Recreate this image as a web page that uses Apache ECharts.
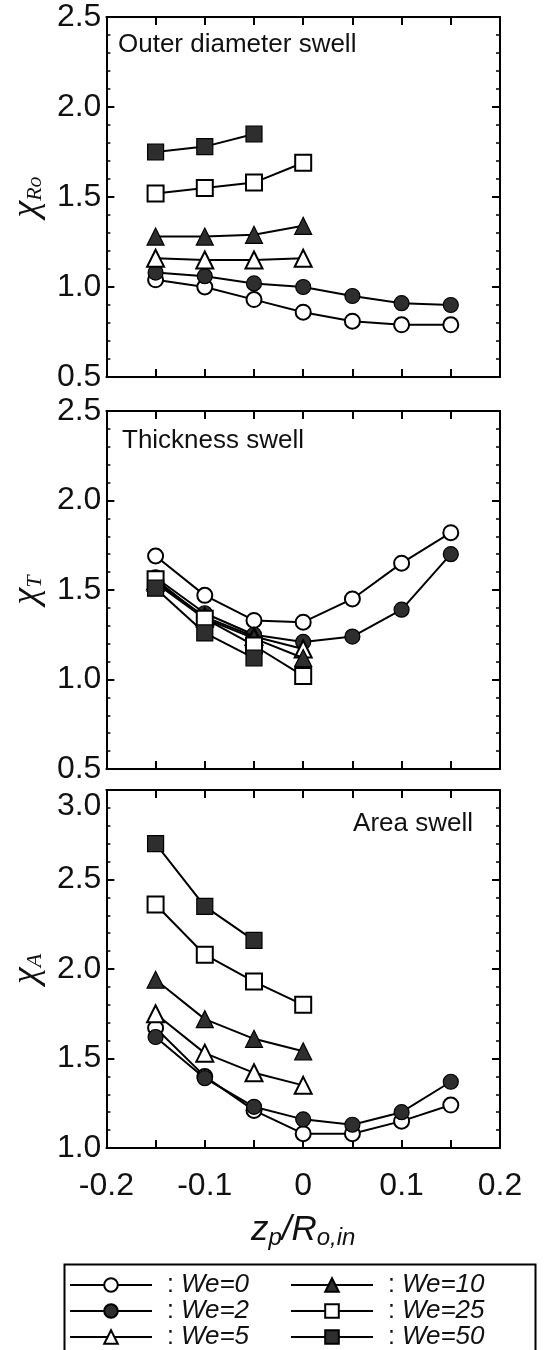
<!DOCTYPE html>
<html>
<head>
<meta charset="utf-8">
<script src="https://cdn.jsdelivr.net/npm/echarts@6/dist/echarts.min.js"></script>
<style>
html,body{margin:0;padding:0;background:#fff;}
#main{width:545px;height:1350px;}
</style>
</head>
<body>
<div id="main"></div>
<script>
// ---- data ----
var xVals = [-0.15, -0.1, -0.05, 0, 0.05, 0.1, 0.15];
var seriesNames = ['We=0', 'We=2', 'We=5', 'We=10', 'We=25', 'We=50'];
var xTickLabels = ['-0.2', '-0.1', '0', '0.1', '0.2'];

// Outer diameter swell (chi_Ro)
var ro_We0  = [1.04, 1.00, 0.93, 0.86, 0.81, 0.79, 0.79];
var ro_We2  = [1.08, 1.06, 1.02, 1.00, 0.95, 0.91, 0.90];
var ro_We5  = [1.16, 1.15, 1.15, 1.16];
var ro_We10 = [1.28, 1.28, 1.29, 1.34];
var ro_We25 = [1.52, 1.55, 1.58, 1.69];
var ro_We50 = [1.75, 1.78, 1.85];

// Thickness swell (chi_T)
var t_We0  = [1.69, 1.47, 1.33, 1.32, 1.45, 1.65, 1.82];
var t_We2  = [1.57, 1.37, 1.25, 1.21, 1.24, 1.39, 1.70];
var t_We5  = [1.55, 1.35, 1.24, 1.17];
var t_We10 = [1.54, 1.34, 1.23, 1.12];
var t_We25 = [1.56, 1.34, 1.19, 1.02];
var t_We50 = [1.51, 1.26, 1.12];

// Area swell (chi_A)
var a_We0  = [1.67, 1.40, 1.21, 1.08, 1.08, 1.15, 1.24];
var a_We2  = [1.62, 1.39, 1.23, 1.16, 1.13, 1.20, 1.37];
var a_We5  = [1.75, 1.53, 1.42, 1.35];
var a_We10 = [1.94, 1.72, 1.61, 1.54];
var a_We25 = [2.36, 2.08, 1.93, 1.80];
var a_We50 = [2.70, 2.35, 2.16];

// ---- styling ----
var FONT = "'Liberation Sans', Arial, Helvetica, sans-serif";
var SERIF = "'Liberation Serif', 'DejaVu Serif', serif";
var DARK = '#2e2e2e';
var markStyles = {
  'We=0':  {symbol: 'circle',   size: 15, fill: '#ffffff'},
  'We=2':  {symbol: 'circle',   size: 15, fill: DARK},
  'We=5':  {symbol: 'triangle', size: 17, fill: '#ffffff'},
  'We=10': {symbol: 'triangle', size: 17, fill: DARK},
  'We=25': {symbol: 'rect',     size: 16, fill: '#ffffff'},
  'We=50': {symbol: 'rect',     size: 16, fill: DARK}
};

var panels = [
  {data: [ro_We0, ro_We2, ro_We5, ro_We10, ro_We25, ro_We50], min: 0.5, max: 2.5,
   name: '{c|χ}{s|Ro}', top: 17, height: 360, showX: false, vMax: 'middle'},
  {data: [t_We0, t_We2, t_We5, t_We10, t_We25, t_We50], min: 0.5, max: 2.5,
   name: '{c|χ}{s|T}', top: 411, height: 358, showX: false, vMax: 'middle'},
  {data: [a_We0, a_We2, a_We5, a_We10, a_We25, a_We50], min: 1.0, max: 3.0,
   name: '{c|χ}{s|A}', top: 790, height: 358, showX: true, vMax: 'top'}
];

var grids = [], xAxes = [], yAxes = [], series = [];
var lineStyleAxis = {color: '#000', width: 2};

function xLabel(v) {
  var r = Math.round(v * 10);
  if (Math.abs(v * 10 - r) > 1e-6) return '';
  var idx = r + 2;
  return xTickLabels[idx] !== undefined ? xTickLabels[idx] : '';
}

panels.forEach(function (p, g) {
  grids.push({left: 100, width: 400, top: p.top, height: p.height});
  // bottom x
  xAxes.push({
    type: 'value', gridIndex: g, position: 'bottom', min: -0.2, max: 0.2, interval: 0.05,
    axisLine: {show: true, onZero: false, lineStyle: lineStyleAxis},
    axisTick: {show: true, inside: true, length: 8, lineStyle: {color: '#000', width: 2}},
    splitLine: {show: false},
    axisLabel: {show: p.showX, margin: 22, fontSize: 32, color: '#111', fontFamily: FONT,
                formatter: xLabel},
    name: p.showX ? '{i|z}{s|p}{i|/R}{s|o,in}' : '',
    nameLocation: 'middle', nameGap: 62,
    nameTextStyle: {
      rich: {
        i: {fontFamily: FONT, fontStyle: 'italic', fontSize: 35, lineHeight: 40, color: '#111'},
        s: {fontFamily: FONT, fontStyle: 'italic', fontSize: 24, lineHeight: 23, verticalAlign: 'bottom', color: '#111'}
      }
    }
  });
  // top x (ticks only)
  xAxes.push({
    type: 'value', gridIndex: g, position: 'top', min: -0.2, max: 0.2, interval: 0.05,
    axisLine: {show: true, onZero: false, lineStyle: lineStyleAxis},
    axisTick: {show: true, inside: true, length: 8, lineStyle: {color: '#000', width: 2}},
    splitLine: {show: false}, axisLabel: {show: false}
  });
  // left y
  yAxes.push({
    type: 'value', gridIndex: g, position: 'left', min: p.min, max: p.max, interval: 0.5,
    axisLine: {show: true, onZero: false, lineStyle: lineStyleAxis},
    axisTick: {show: true, inside: true, length: 8, lineStyle: {color: '#000', width: 2}},
    minorTick: {show: true, splitNumber: 5, length: 4, lineStyle: {color: '#000', width: 1.5}},
    splitLine: {show: false}, minorSplitLine: {show: false},
    axisLabel: {show: true, margin: 5, fontSize: 32, color: '#111', fontFamily: FONT,
                verticalAlignMaxLabel: p.vMax,
                formatter: function (v) { return v.toFixed(1); }},
    name: p.name, nameLocation: 'middle', nameGap: 58,
    nameTextStyle: {
      rich: {
        c: {fontFamily: SERIF, fontStyle: 'italic', fontSize: 38, lineHeight: 38, color: '#111'},
        s: {fontFamily: SERIF, fontStyle: 'italic', fontSize: 22, lineHeight: 24, verticalAlign: 'bottom', color: '#111'}
      }
    }
  });
  // right y (ticks only)
  yAxes.push({
    type: 'value', gridIndex: g, position: 'right', min: p.min, max: p.max, interval: 0.5,
    axisLine: {show: true, onZero: false, lineStyle: lineStyleAxis},
    axisTick: {show: true, inside: true, length: 8, lineStyle: {color: '#000', width: 2}},
    minorTick: {show: true, splitNumber: 5, length: 4, lineStyle: {color: '#000', width: 1.5}},
    splitLine: {show: false}, minorSplitLine: {show: false},
    axisLabel: {show: false}
  });

  p.data.forEach(function (vals, k) {
    var nm = seriesNames[k];
    var st = markStyles[nm];
    series.push({
      type: 'line', name: nm,
      xAxisIndex: 2 * g, yAxisIndex: 2 * g,
      data: vals.map(function (v, i) { return [xVals[i], v]; }),
      symbol: st.symbol, symbolSize: st.size,
      lineStyle: {color: '#000', width: 2},
      itemStyle: {color: st.fill, borderColor: '#000', borderWidth: st.fill === '#ffffff' ? 2 : 1.2},
      emphasis: {disabled: true},
      z: 2 + k
    });
  });
});

var legendText = {
  rich: {
    c: {fontFamily: FONT, fontSize: 25, lineHeight: 24, color: '#111', padding: [0, 0, 0, 10]},
    i: {fontFamily: FONT, fontStyle: 'italic', fontSize: 26, lineHeight: 24, color: '#111'}
  }
};
function legendFmt(name) { return '{c|: }{i|' + name + '}'; }

var option = {
  backgroundColor: '#fff',
  animation: false,
  title: [
    {text: 'Outer diameter swell', left: 118, top: 32, padding: 0,
     textStyle: {fontFamily: FONT, fontSize: 26, fontWeight: 'normal', color: '#111'}},
    {text: 'Thickness swell', left: 122, top: 428, padding: 0,
     textStyle: {fontFamily: FONT, fontSize: 26, fontWeight: 'normal', color: '#111'}},
    {text: 'Area swell', right: 72, top: 811, padding: 0,
     textStyle: {fontFamily: FONT, fontSize: 26, fontWeight: 'normal', color: '#111'}}
  ],
  grid: grids,
  xAxis: xAxes,
  yAxis: yAxes,
  legend: [
    {data: seriesNames.slice(0, 3), orient: 'vertical', left: 69, top: 1272, height: 120, width: 210,
     padding: 0, itemWidth: 82, itemHeight: 17, itemGap: 0, selectedMode: false,
     formatter: legendFmt, textStyle: legendText},
    {data: seriesNames.slice(3), orient: 'vertical', left: 290, top: 1272, height: 120, width: 230,
     padding: 0, itemWidth: 82, itemHeight: 17, itemGap: 0, selectedMode: false,
     formatter: legendFmt, textStyle: legendText}
  ],
  graphic: [
    {type: 'rect', left: 62, top: 1262, shape: {width: 471, height: 120},
     style: {fill: 'none', stroke: '#000', lineWidth: 2}, silent: true}
  ],
  series: series
};

var chart = echarts.init(document.getElementById('main'), null, {renderer: 'canvas'});
chart.setOption(option);
</script>
</body>
</html>
